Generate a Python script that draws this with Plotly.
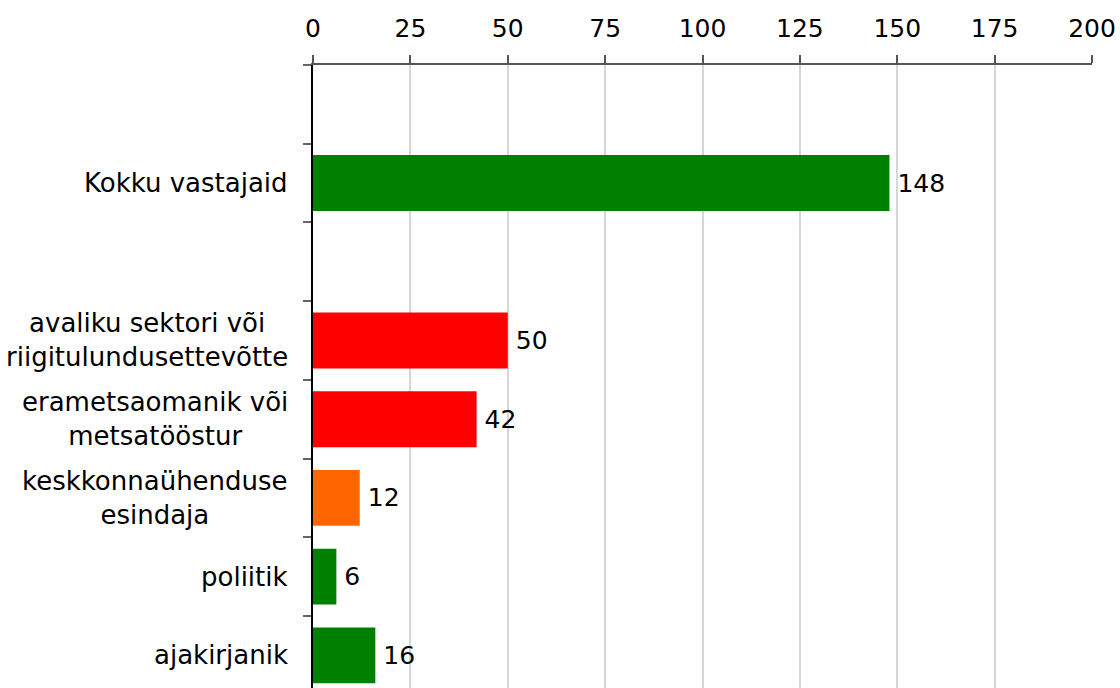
import plotly.graph_objects as go

# Data (top to bottom); empty strings are blank spacer rows
categories = ["", "Kokku vastajaid", "",
              "avaliku sektori või<br>riigitulundusettevõtte",
              "erametsaomanik või<br>metsatööstur",
              "keskkonnaühenduse<br>esindaja",
              "poliitik",
              "ajakirjanik"]
values = [None, 148, None, 50, 42, 12, 6, 16]
colors = ["#008000", "#008000", "#008000", "#FF0000", "#FF0000", "#FF6600", "#008000", "#008000"]
x_ticks = [0, 25, 50, 75, 100, 125, 150, 175, 200]

ids = [f"c{i}" for i in range(len(categories))]
FONT = "DejaVu Sans, Verdana, sans-serif"
FS = 25

fig = go.Figure(go.Bar(
    x=values, y=ids, orientation="h",
    marker=dict(color=colors, line=dict(width=0)),
    width=0.71,
    text=[None if v is None else "\u2009" + str(v) for v in values],
    textposition="outside",
    textfont=dict(family=FONT, size=FS, color="black"),
    cliponaxis=False,
))

for cid, lab in zip(ids, categories):
    if lab:
        fig.add_annotation(x=0, xref="paper", xanchor="right", xshift=-23,
                           y=cid, yref="y", yanchor="middle",
                           text=lab, align="center", showarrow=False,
                           font=dict(family=FONT, size=26, color="black"))

fig.update_layout(
    width=1120, height=688,
    margin=dict(l=313, r=28, t=65, b=0),
    paper_bgcolor="white", plot_bgcolor="white",
    showlegend=False,
    font=dict(family=FONT, size=FS, color="black"),
)
fig.update_xaxes(
    side="top", range=[0, 200], tickvals=x_ticks,
    showline=True, linecolor="#555555", linewidth=1.5,
    ticks="outside", ticklen=8, tickcolor="#555555", tickwidth=1.5,
    showgrid=True, gridcolor="#d6d6d6", gridwidth=1.5,
    zeroline=False,
    tickfont=dict(family=FONT, size=FS, color="black"),
    ticklabelstandoff=8,
)
fig.update_yaxes(
    type="category", categoryorder="array", categoryarray=ids,
    range=[7.415, -0.5],
    showline=True, linecolor="black", linewidth=1.5,
    ticks="outside", tickson="boundaries", ticklen=8, tickcolor="#666666", tickwidth=1.5,
    showticklabels=False, showgrid=False, zeroline=False,
)

fig.write_html("out.html", config={"displayModeBar": False},
               post_script="document.body.style.margin='0';document.body.style.overflow='hidden';")
